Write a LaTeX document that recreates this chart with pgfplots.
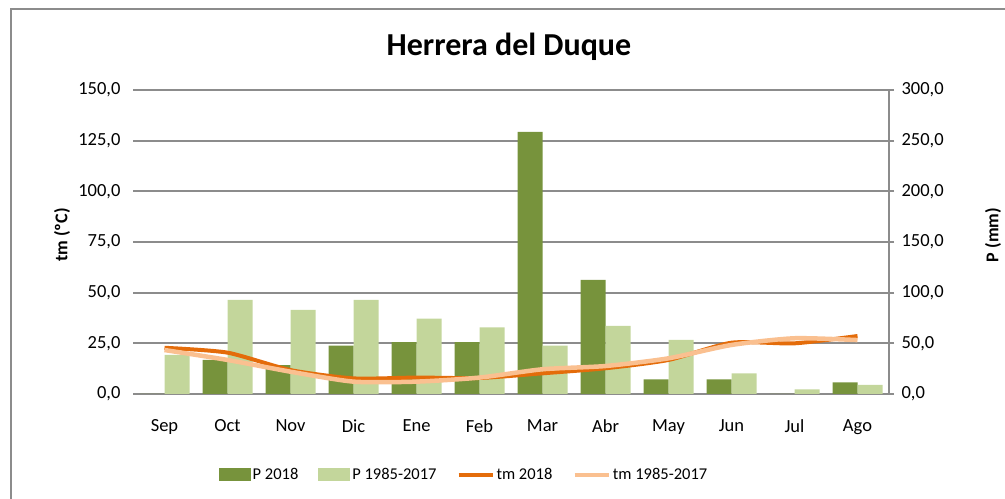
\documentclass[border=0pt]{standalone}
\usepackage{fontspec}
\setmainfont{Carlito}
\usepackage{pgfplots}
\pgfplotsset{compat=1.18}
\definecolor{dkgreen}{HTML}{77933C}
\definecolor{ltgreen}{HTML}{C3D69B}
\definecolor{dkorange}{HTML}{E46C0A}
\definecolor{ltorange}{HTML}{FAC090}
\definecolor{gridgray}{HTML}{8C8C8C}
\pgfplotsset{
  common/.style={
    scale only axis, width=756bp, height=304bp,
    at={(133bp,105bp)}, anchor=south west,
    xmin=-0.5, xmax=11.5,
    /pgf/number format/.cd, use comma, fixed, fixed zerofill, precision=1, assume math mode=true,
    /pgfplots/.cd,
    ticklabel style={font=\fontsize{18.5bp}{22bp}\selectfont, text=black},
  }
}
\begin{document}
\begin{tikzpicture}[x=1bp,y=1bp]
\useasboundingbox (0,0) rectangle (1005,499);
\begin{scope}
\clip (0,0) rectangle (1005,499);
\draw[gridgray, line width=2bp] (11,-20) -- (11,490) -- (1030,490);
\end{scope}
\node[font=\bfseries\fontsize{32bp}{36bp}\selectfont, anchor=base] at (509,443) {Herrera del Duque};
\node[font=\bfseries\fontsize{18bp}{22bp}\selectfont, rotate=90] at (62,264) {tm (ºC)};
\node[font=\bfseries\fontsize{18bp}{22bp}\selectfont, rotate=90] at (993,264) {P (mm)};

% bars on the right axis (P, mm)
\begin{axis}[common,
  ymin=0, ymax=300, ytick={0,50,...,300},
  axis y line*=right, axis x line*=bottom,
  axis line style={-, gridgray, line width=2bp},
  xtick={0,...,11},
  xticklabels={Sep,Oct,Nov,Dic,Ene,Feb,Mar,Abr,May,Jun,Jul,Ago},
  x tick style={draw=none}, major x tick style={draw=none},
  xticklabel style={yshift=-12bp},
  ytick align=center, major tick length=10bp,
  y tick style={gridgray, line width=2bp},
  yticklabel style={xshift=4bp},
  ymajorgrids, grid style={gridgray, line width=2bp},
  ybar, bar width=25bp,
]
\addplot[fill=dkgreen, draw=none, bar shift=-12.5bp] coordinates {
 (0,0) (1,33.6) (2,28.6) (3,47.7) (4,51.3) (5,51.3) (6,258.6) (7,112.5) (8,14.5) (9,14.5) (10,0) (11,11.5)};
\addplot[fill=ltgreen, draw=none, bar shift=12.5bp] coordinates {
 (0,38.5) (1,92.8) (2,82.9) (3,92.8) (4,74.3) (5,65.8) (6,47.7) (7,67.1) (8,53.3) (9,20.4) (10,4.6) (11,8.9)};
\end{axis}

% lines on the left axis (tm, C)
\begin{axis}[common,
  ymin=0, ymax=150, ytick={0,25,...,150},
  axis y line*=left, y axis line style={draw=none},
  hide x axis,
  major tick length=0bp,
  yticklabel style={xshift=-9bp},
  legend columns=4,
  legend style={at={(0.4378,-0.2664)}, anchor=center, draw=none, fill=none,
    font=\fontsize{16.5bp}{20bp}\selectfont,
    /tikz/every even column/.append style={column sep=18bp}},
]
\addlegendimage{fill=dkgreen, draw=none, legend image code/.code={\fill (0bp,-6.5bp) rectangle (32bp,6.5bp);}}
\addlegendentry{P 2018}
\addlegendimage{fill=ltgreen, draw=none, legend image code/.code={\fill (0bp,-6.5bp) rectangle (32bp,6.5bp);}}
\addlegendentry{P 1985-2017}
\addplot[dkorange, line width=4bp, smooth, tension=0.4, legend image code/.code={\draw (0bp,0bp) -- (34bp,0bp);}] coordinates {
 (0,22.8) (1,20.4) (2,11.8) (3,7.7) (4,8.1) (5,7.9) (6,10.2) (7,12.7) (8,16.8) (9,25.3) (10,25.0) (11,28.6)};
\addlegendentry{tm 2018}
\addplot[ltorange, line width=4.5bp, smooth, tension=0.4, legend image code/.code={\draw (0bp,0bp) -- (34bp,0bp);}] coordinates {
 (0,21.7) (1,16.8) (2,11.0) (3,6.1) (4,6.1) (5,8.1) (6,12.2) (7,13.8) (8,17.6) (9,24.2) (10,27.5) (11,26.6)};
\addlegendentry{tm 1985-2017}
\end{axis}
\end{tikzpicture}
\end{document}
